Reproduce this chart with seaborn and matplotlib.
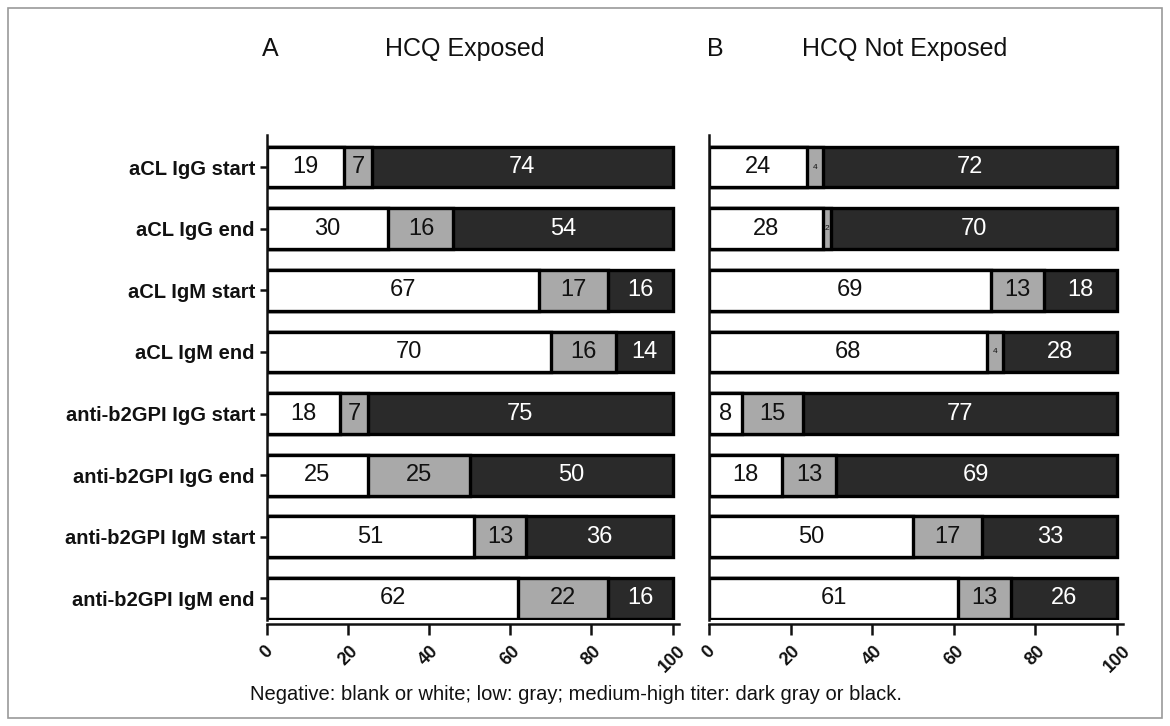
import numpy as np
import pandas as pd
import matplotlib
matplotlib.use("Agg")
import matplotlib.pyplot as plt
import seaborn as sns
from matplotlib.patches import Rectangle

sns.set_theme(style="white")
plt.rcParams['font.family'] = ['Liberation Sans', 'DejaVu Sans']
plt.rcParams['text.color'] = '#111111'
plt.rcParams['xtick.color'] = '#111111'
plt.rcParams['ytick.color'] = '#111111'
plt.rcParams['axes.edgecolor'] = '#111111'

categories = ["aCL IgG start", "aCL IgG end", "aCL IgM start", "aCL IgM end",
              "anti-b2GPI IgG start", "anti-b2GPI IgG end",
              "anti-b2GPI IgM start", "anti-b2GPI IgM end"]
exposed_negative = [19, 30, 67, 70, 18, 25, 51, 62]
exposed_low = [7, 16, 17, 16, 7, 25, 13, 22]
exposed_high = [74, 54, 16, 14, 75, 50, 36, 16]
notexp_negative = [24, 28, 69, 68, 8, 18, 50, 61]
notexp_low = [4, 2, 13, 4, 15, 13, 17, 13]
notexp_high = [72, 70, 18, 28, 77, 69, 33, 26]
x_ticks = [0, 20, 40, 60, 80, 100]
panel_letters = ["A", "B"]
panel_titles = ["HCQ Exposed", "HCQ Not Exposed"]
caption = "Negative: blank or white; low: gray; medium-high titer: dark gray or black."

colors = ["white", "#a9a9a9", "#2a2a2a"]
text_colors = ["#111111", "#111111", "white"]

fig = plt.figure(figsize=(11.7, 7.26), dpi=100)
fig.patches.append(Rectangle((0.007, 0.011), 0.986, 0.978, transform=fig.transFigure,
                             fill=False, edgecolor="#9a9a9a", linewidth=1.2))

axA = fig.add_axes([0.228, 0.146, 0.352, 0.668])
axB = fig.add_axes([0.606, 0.146, 0.354, 0.668])

panels = [(axA, exposed_negative, exposed_low, exposed_high),
          (axB, notexp_negative, notexp_low, notexp_high)]

for i, (ax, neg, low, high) in enumerate(panels):
    df = pd.DataFrame({"cat": categories, "neg": neg, "low": low, "high": high})
    df["c1"] = df["neg"]
    df["c2"] = df["neg"] + df["low"]
    df["c3"] = df["c2"] + df["high"]
    for col, color in zip(["c3", "c2", "c1"], colors[::-1]):
        sns.barplot(data=df, y="cat", x=col, orient="h", color=color, ax=ax,
                    edgecolor="black", linewidth=2.4, width=0.66, saturation=1)
    for r in range(len(categories)):
        starts = [0, df["c1"][r], df["c2"][r]]
        vals = [df["neg"][r], df["low"][r], df["high"][r]]
        for s, v, tc in zip(starts, vals, text_colors):
            fs = 17 if v >= 5 else 6
            ax.text(s + v / 2, r, str(v), ha="center", va="center",
                    fontsize=fs, color=tc)
    ax.set_xlim(0, 101.5)
    ax.set_ylim(7.35, -0.52)
    ax.set_xlabel("")
    ax.set_ylabel("")
    ax.set_xticks(x_ticks)
    ax.set_xticklabels([str(t) for t in x_ticks])
    ax.spines["top"].set_visible(False)
    ax.spines["right"].set_visible(False)
    ax.spines["left"].set_linewidth(1.8)
    ax.spines["bottom"].set_linewidth(1.8)
    ax.spines["bottom"].set_position(("outward", 3))
    ax.tick_params(axis="x", length=8, width=1.8, direction="out", bottom=True, pad=5)
    ax.tick_params(axis="y", length=5, width=1.8, direction="out", left=True)
    ax.set_yticks(range(len(categories)))
    if i == 0:
        ax.set_yticklabels(categories)
        for lbl in ax.get_yticklabels():
            lbl.set_fontweight("bold")
            lbl.set_fontsize(14.5)
    else:
        ax.set_yticklabels([])
        ax.tick_params(axis="y", length=0)
    for lbl in ax.get_xticklabels():
        lbl.set_rotation(45)
        lbl.set_fontweight("bold")
        lbl.set_fontsize(13)
        lbl.set_ha("center")
        lbl.set_va("top")
    ax.set_facecolor("white")

fig.text(0.224, 0.933, panel_letters[0], fontsize=18, ha="left", va="center")
fig.text(0.397, 0.933, panel_titles[0], fontsize=18, ha="center", va="center")
fig.text(0.604, 0.933, panel_letters[1], fontsize=18, ha="left", va="center")
fig.text(0.773, 0.933, panel_titles[1], fontsize=18, ha="center", va="center")
fig.text(0.492, 0.043, caption, fontsize=14.5, ha="center", va="center")

fig.savefig("out.png", dpi=100, facecolor="white")
